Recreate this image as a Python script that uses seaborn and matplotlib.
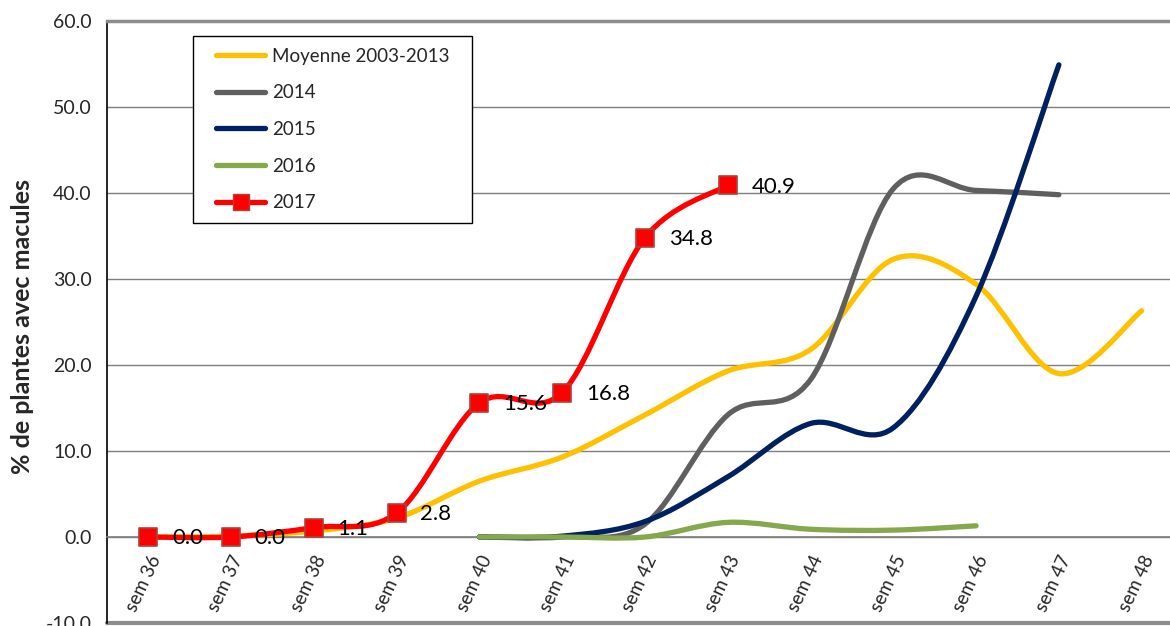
import numpy as np
import pandas as pd
import matplotlib
matplotlib.use("Agg")
import matplotlib.pyplot as plt
import seaborn as sns
from matplotlib.path import Path
from matplotlib.patches import PathPatch
from matplotlib.lines import Line2D
from matplotlib.legend_handler import HandlerLine2D
from matplotlib.ticker import FixedLocator, FuncFormatter

# ---------------- data ----------------
weeks = ["sem 36", "sem 37", "sem 38", "sem 39", "sem 40", "sem 41", "sem 42",
         "sem 43", "sem 44", "sem 45", "sem 46", "sem 47", "sem 48"]
moyenne = [0.0, 0.1, 0.7, 2.2, 6.5, 9.3, 14.2, 19.3, 21.8, 32.3, 29.4, 19.0, 26.3]
y2014 = [None, None, None, None, 0.0, 0.0, 1.5, 14.2, 18.3, 40.5, 40.3, 39.8]
y2015 = [None, None, None, None, 0.0, 0.1, 1.8, 7.0, 13.2, 12.7, 28.0, 54.9]
y2016 = [None, None, None, None, 0.0, 0.0, 0.0, 1.7, 0.9, 0.8, 1.3]
y2017 = [0.0, 0.0, 1.1, 2.8, 15.6, 16.8, 34.8, 40.9]
series_names = ["Moyenne 2003-2013", "2014", "2015", "2016", "2017"]
y_ticks = [-10, 0, 10, 20, 30, 40, 50, 60]

colors = {"Moyenne 2003-2013": "#FFC000", "2014": "#5F5F5F", "2015": "#002060",
          "2016": "#86A84C", "2017": "#FF0000"}

sns.set_style("white")
plt.rcParams["font.family"] = ["Lato", "DejaVu Sans"]

fig = plt.figure(figsize=(11.7, 6.26), dpi=100)
ax = fig.add_axes([107 / 1170, 3 / 626, 1076 / 1170, 602 / 626])


def smooth_path(xs, ys):
    """Excel-like smoothed line: cubic Bezier segments through the points."""
    pts = np.column_stack([xs, ys]).astype(float)
    n = len(pts)
    verts = [pts[0]]
    codes = [Path.MOVETO]
    for i in range(n - 1):
        p_prev = pts[i - 1] if i > 0 else pts[i]
        p0 = pts[i]
        p1 = pts[i + 1]
        p_next = pts[i + 2] if i + 2 < n else pts[i + 1]
        c1 = p0 + (p1 - p_prev) / 6.0
        c2 = p1 - (p_next - p0) / 6.0
        verts += [c1, c2, p1]
        codes += [Path.CURVE4] * 3
    return Path(verts, codes)


all_series = [moyenne, y2014, y2015, y2016, y2017]
for name, vals in zip(series_names, all_series):
    xs = [i for i, v in enumerate(vals) if v is not None]
    ys = [v for v in vals if v is not None]
    patch = PathPatch(smooth_path(xs, ys), fill=False, edgecolor=colors[name],
                      lw=3.8, capstyle="round", joinstyle="round", zorder=3)
    ax.add_patch(patch)

# markers for 2017
df17 = pd.DataFrame({"x": range(len(y2017)), "y": y2017})
sns.scatterplot(data=df17, x="x", y="y", marker="s", s=150, color="#FF0000",
                edgecolor="#B0403C", linewidth=1.2, zorder=5, ax=ax, legend=False)
for i, v in enumerate(y2017):
    ax.annotate(f"{v:.1f}", (i, v), xytext=(17, -1), textcoords="offset points",
                ha="left", va="center", fontsize=16, color="black", zorder=6)

# spines first (set_position resets tick settings)
ax.spines["bottom"].set_position(("data", 0))
ax.spines["bottom"].set_color("#7F7F7F")
ax.spines["bottom"].set_linewidth(1.2)
ax.spines["left"].set_color("black")
ax.spines["left"].set_linewidth(1.2)
ax.spines["top"].set_color("#8C8C8C")
ax.spines["top"].set_linewidth(2.5)
ax.spines["right"].set_visible(False)

# axes
ax.set_xlim(-0.5, 12.5)
ax.set_ylim(-10, 60)
ax.yaxis.set_major_locator(FixedLocator(y_ticks))
ax.yaxis.set_major_formatter(FuncFormatter(lambda v, p: f"{v:.1f}"))
ax.set_xticks(range(len(weeks)))
ax.set_xticklabels(weeks, rotation=65, ha="right", rotation_mode="anchor", fontsize=13.5)
ax.xaxis.set_minor_locator(FixedLocator(np.arange(0.5, 12.6, 1.0)))
ax.tick_params(axis="x", which="major", length=0, pad=11)
ax.tick_params(axis="x", which="minor", length=6, width=1, color="#7F7F7F", direction="out")
ax.tick_params(axis="y", which="major", length=7, width=1, color="black",
               direction="out", labelsize=14, pad=4)
ax.set_xlabel("")
ax.set_ylabel("")

ax.grid(axis="y", color="#7F7F7F", lw=1.0)
ax.grid(axis="x", visible=False)
ax.set_axisbelow(True)
ax.axhline(-10, color="#8C8C8C", lw=3, clip_on=False, zorder=1)

fig.text(23 / 1170, 1 - 326 / 626, "% de plantes avec macules", rotation=90,
         ha="center", va="center", fontsize=18, fontweight="bold")

# legend
handles = []
for name in series_names:
    if name == "2017":
        handles.append(Line2D([], [], color=colors[name], lw=3.8, marker="s",
                              markersize=11, markerfacecolor="#FF0000",
                              markeredgecolor="#B0403C", solid_capstyle="round"))
    else:
        handles.append(Line2D([], [], color=colors[name], lw=3.8, solid_capstyle="round"))
lx0 = (193 - 107) / 1076
ly1 = (623 - 36) / 602
lw_ = (472 - 193) / 1076
leg = ax.legend(handles, series_names, loc="upper left",
                bbox_to_anchor=(lx0, ly1 - 0.3, lw_, 0.3), mode="expand",
                borderaxespad=0, frameon=True, fancybox=False, fontsize=13.5,
                handlelength=3.22, handletextpad=0.4, labelspacing=1.05,
                borderpad=0.62, framealpha=1,
                handler_map={Line2D: HandlerLine2D(xpad=0.62)})
leg.get_frame().set_edgecolor("black")
leg.get_frame().set_linewidth(1.0)
leg.set_zorder(4)

fig.savefig("out.png", dpi=100)
